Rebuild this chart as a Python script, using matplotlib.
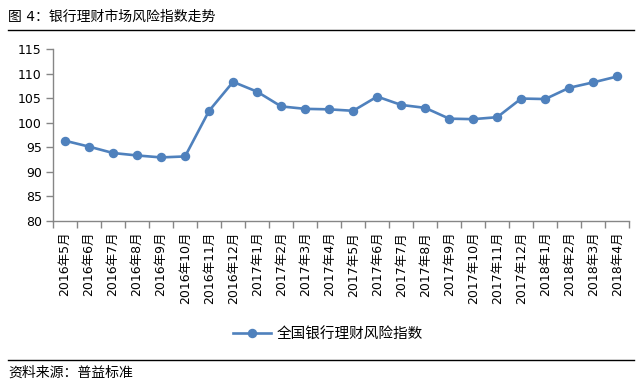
import numpy as np
import matplotlib
matplotlib.use("Agg")
import matplotlib.pyplot as plt

plt.rcParams['font.family'] = ['DejaVu Sans', 'Noto Sans CJK SC']

months = ['2016年5月', '2016年6月', '2016年7月', '2016年8月', '2016年9月',
          '2016年10月', '2016年11月', '2016年12月', '2017年1月', '2017年2月',
          '2017年3月', '2017年4月', '2017年5月', '2017年6月', '2017年7月',
          '2017年8月', '2017年9月', '2017年10月', '2017年11月', '2017年12月',
          '2018年1月', '2018年2月', '2018年3月', '2018年4月']
risk_index = [96.3, 95.1, 93.8, 93.3, 92.9, 93.1, 102.4, 108.3, 106.3, 103.3,
              102.8, 102.7, 102.4, 105.3, 103.6, 103.0, 100.8, 100.7, 101.1,
              104.9, 104.8, 107.1, 108.2, 109.4]
series_name = '全国银行理财风险指数'
title = '图 4：银行理财市场风险指数走势'
source = '资料来源：普益标准'

blue = '#4F81BD'
grey = '#868686'

fig = plt.figure(figsize=(6.4, 3.85), dpi=100)
ax = fig.add_axes([53 / 640, 1 - 220.7 / 385, (629.3 - 53) / 640, (220.7 - 49) / 385])

x = np.arange(len(months))
ax.plot(x, risk_index, color=blue, lw=1.9, marker='o', ms=5.8,
        markeredgecolor=blue, label=series_name)

ax.set_xlim(-0.5, len(months) - 0.5)
ax.set_ylim(80, 115)
ax.set_yticks(np.arange(80, 116, 5))

# category boundaries get the tick marks, centres get the labels
ax.set_xticks(x)
ax.set_xticklabels(months, rotation=90, fontsize=9)
ax.set_xticks(np.arange(-0.5, len(months)), minor=True)
ax.tick_params(axis='x', which='major', length=0, pad=8)
ax.tick_params(axis='x', which='minor', length=5, color=grey, width=1)
ax.tick_params(axis='y', length=5, color=grey, width=1, labelsize=9, pad=3)

for s in ['top', 'right']:
    ax.spines[s].set_visible(False)
for s in ['left', 'bottom']:
    ax.spines[s].set_color(grey)
    ax.spines[s].set_linewidth(1)

fig.legend(loc='center', bbox_to_anchor=(328 / 640, 1 - 334 / 385), frameon=False,
           fontsize=10.5, handlelength=2.6, handletextpad=0.4)

fig.text(8 / 640, 1 - 17 / 385, title, fontsize=10, va='center', ha='left')
fig.add_artist(plt.Line2D([8 / 640, 634 / 640], [1 - 30 / 385, 1 - 30 / 385],
                          color='black', lw=1))
fig.add_artist(plt.Line2D([8 / 640, 634 / 640], [1 - 360 / 385, 1 - 360 / 385],
                          color='black', lw=1))
fig.text(8 / 640, 1 - 373 / 385, source, fontsize=10, va='center', ha='left')

fig.savefig('out.png', dpi=100)
